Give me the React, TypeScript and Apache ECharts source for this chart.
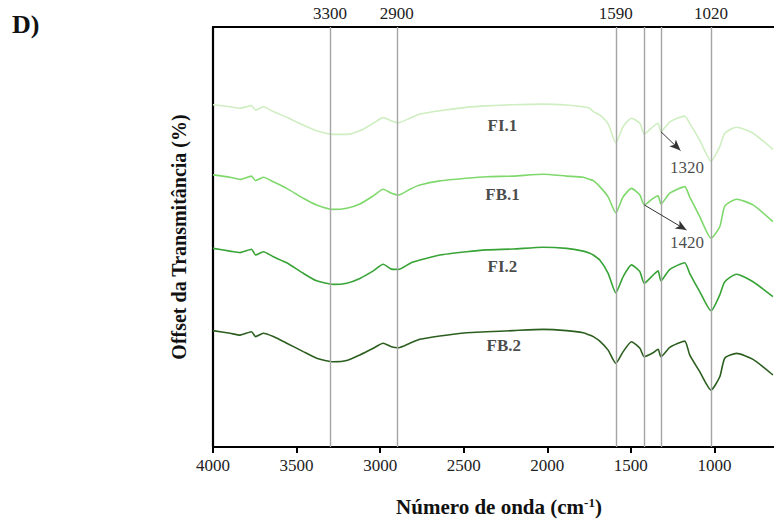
import React, { useEffect, useRef } from "react";
import * as echarts from "echarts";

// Wavenumbers (cm-1) sampled along the spectra
const WAVENUMBERS = [4000, 3898, 3838, 3770, 3745, 3699, 3639, 3559, 3460, 3380, 3280, 3200, 3121, 3041, 2982, 2932, 2890, 2822, 2762, 2643, 2483, 2363, 2204, 2025, 1885, 1785, 1746, 1725, 1686, 1636, 1590, 1546, 1496, 1446, 1420, 1367, 1337, 1320, 1267, 1178, 1148, 1088, 1020, 968, 938, 868, 769, 650];

// Offset transmittance (arbitrary offset units)
const FI1 = [114.1, 113.4, 112.9, 113.8, 112.3, 113.4, 111.8, 109.9, 107.3, 105.4, 104.2, 104.2, 105.4, 107.9, 109.8, 108.7, 108.1, 109.6, 111.0, 112.1, 113.2, 113.7, 114.1, 114.3, 114.0, 113.4, 112.9, 111.8, 110.7, 107.7, 101.4, 106.8, 109.6, 107.9, 104.3, 106.8, 107.9, 105.1, 108.4, 110.3, 107.9, 102.3, 95.3, 100.1, 104.6, 106.6, 104.6, 99.2];
const FB1 = [90.7, 89.9, 89.2, 90.3, 88.8, 89.9, 88.4, 86.2, 82.9, 80.7, 79.2, 79.6, 81.0, 83.7, 85.9, 84.6, 84.0, 85.9, 87.3, 88.7, 89.6, 90.1, 90.3, 90.9, 90.3, 89.9, 89.2, 88.8, 86.8, 83.4, 78.1, 83.4, 86.2, 84.0, 80.7, 82.9, 83.7, 81.0, 84.6, 86.8, 83.4, 76.8, 69.6, 73.4, 80.3, 82.6, 80.7, 75.1];
const FI2 = [66.2, 65.3, 64.8, 65.9, 64.0, 65.1, 63.4, 61.4, 57.9, 55.4, 54.2, 54.6, 56.2, 58.7, 60.9, 59.3, 59.2, 61.2, 62.3, 64.0, 65.1, 65.7, 66.0, 66.6, 66.2, 65.3, 64.6, 64.0, 62.3, 57.9, 51.4, 56.8, 60.7, 58.4, 54.6, 57.3, 58.7, 55.4, 59.2, 61.4, 57.9, 51.8, 45.4, 50.7, 55.1, 57.6, 55.1, 50.1];
const FB2 = [38.8, 37.9, 37.3, 38.4, 36.8, 37.9, 36.8, 34.6, 31.8, 29.6, 28.4, 28.8, 30.7, 32.9, 34.6, 33.4, 33.1, 34.6, 35.9, 37.0, 38.1, 38.4, 38.8, 39.2, 38.8, 38.1, 37.3, 36.8, 35.3, 32.3, 27.9, 31.8, 35.1, 32.9, 30.1, 31.4, 32.6, 30.1, 33.2, 35.3, 30.7, 25.1, 19.0, 23.4, 29.6, 31.2, 29.2, 24.0];

const SERIES_NAMES = ["FI.1", "FB.1", "FI.2", "FB.2"];
const SERIES_VALUES = [FI1, FB1, FI2, FB2];

// Vertical reference bands (cm-1) and which are labelled at the top
const BANDS = [3300, 2900, 1590, 1420, 1320, 1020];
const TOP_LABELED_BANDS = [3300, 2900, 1590, 1020];

// X tick range
const X_MIN = 500;
const X_MAX = 4000;
const X_STEP = 500;

// Annotation texts
const CURVE_LABEL_POINTS: [number, number, string][] = [
  [2268, 107.3, "FI.1"],
  [2268, 84.3, "FB.1"],
  [2268, 60.3, "FI.2"],
  [2260, 33.7, "FB.2"],
];
const ARROWS: [[number, number], [number, number]][] = [
  [[1320, 105.1], [1203, 98.8]],
  [[1420, 80.7], [1167, 72.3]],
];
const ARROW_LABELS: [number, number, string][] = [
  [1164, 93.2, "1320"],
  [1164, 68.1, "1420"],
];

const COLORS = ["#cfeec2", "#7fd86c", "#38a336", "#2c5f1f"];
const SERIF = "Liberation Serif";

export default function App() {
  const ref = useRef<HTMLDivElement>(null);
  useEffect(() => {
    if (!ref.current) return;
    const chart = echarts.init(ref.current, undefined, { renderer: "svg" });
    const lineSeries: any[] = SERIES_VALUES.map((vals, i) => ({
      name: SERIES_NAMES[i],
      type: "line",
      data: WAVENUMBERS.map((w, j) => [w, vals[j]]),
      showSymbol: false,
      smooth: 0.2,
      lineStyle: { color: COLORS[i], width: 1.6 },
      itemStyle: { color: COLORS[i] },
      z: 3,
    }));
    lineSeries[0].markLine = {
      silent: true,
      symbol: "none",
      animation: false,
      lineStyle: { color: "#a5a5a5", width: 1.4, type: "solid" },
      data: BANDS.map((b) => ({
        xAxis: b,
        label: {
          show: TOP_LABELED_BANDS.includes(b),
          position: "end",
          distance: 5,
          formatter: String(b),
          color: "#222",
          fontFamily: SERIF,
          fontSize: 17,
        },
      })),
    };
    const arrowSeries = {
      type: "line",
      data: [],
      markLine: {
        silent: true,
        symbol: ["none", "arrow"],
        symbolSize: [7, 11],
        animation: false,
        lineStyle: { color: "#333", width: 1, type: "solid" },
        label: { show: false },
        data: ARROWS.map(([a, b]) => [{ coord: a }, { coord: b }]),
      },
      z: 4,
    };
    const textLabel = (bold: boolean) => ({
      show: true,
      position: "inside",
      formatter: (p: any) => p.name,
      color: "#1a1a1a",
      textBorderWidth: 0,
      textBorderColor: "transparent",
      fontFamily: SERIF,
      fontWeight: bold ? "bold" : "normal",
      fontSize: 17,
    });
    const labelSeries = {
      type: "scatter",
      symbolSize: 1,
      silent: true,
      itemStyle: { color: "rgba(0,0,0,0)" },
      data: CURVE_LABEL_POINTS.map(([x, y, t]) => ({ value: [x, y], name: t })),
      label: textLabel(true),
      z: 5,
    };
    const arrowLabelSeries = {
      type: "scatter",
      symbolSize: 1,
      silent: true,
      itemStyle: { color: "rgba(0,0,0,0)" },
      data: ARROW_LABELS.map(([x, y, t]) => ({ value: [x, y], name: t })),
      label: textLabel(false),
      z: 5,
    };
    chart.setOption({
      animation: false,
      backgroundColor: "#ffffff",
      grid: { left: 213, top: 27, width: 585, height: 420, containLabel: false, outerBoundsMode: "none" },
      xAxis: [
        {
          type: "value",
          inverse: true,
          min: X_MIN,
          max: X_MAX,
          interval: X_STEP,
          position: "bottom",
          axisLine: { show: true, lineStyle: { color: "#000", width: 2 } },
          axisTick: { show: true, inside: false, length: 6, lineStyle: { color: "#000", width: 2 } },
          axisLabel: {
            color: "#222",
            fontFamily: SERIF,
            fontSize: 17,
            margin: 10,
            showMinLabel: false,
            showMaxLabel: true,
            formatter: (v: number) => (v === X_MIN ? "" : String(v)),
          },
          splitLine: { show: false },
        },
        {
          type: "value",
          inverse: true,
          min: X_MIN,
          max: X_MAX,
          position: "top",
          axisLine: { show: true, lineStyle: { color: "#000", width: 2 } },
          axisTick: { show: false },
          axisLabel: { show: false },
          splitLine: { show: false },
        },
      ],
      yAxis: {
        type: "value",
        min: 0,
        max: 140,
        axisLine: { show: true, lineStyle: { color: "#000", width: 2.2 } },
        axisTick: { show: false },
        axisLabel: { show: false },
        splitLine: { show: false },
        name: "Offset da Transmitância (%)",
        nameLocation: "middle",
        nameGap: 24,
        nameRotate: 90,
        nameTextStyle: { color: "#111", fontFamily: SERIF, fontWeight: "bold", fontSize: 20 },
      },
      graphic: [
        {
          type: "text",
          left: 12,
          top: 11,
          style: { text: "D)", fill: "#111", font: `bold 26px "${SERIF}"` },
        },
        {
          type: "text",
          x: 499,
          y: 507,
          style: {
            text: "{a|Número de onda (cm}{b|-1}{a|)}",
            align: "center",
            verticalAlign: "middle",
            rich: {
              a: { fontFamily: SERIF, fontWeight: "bold", fontSize: 21, fill: "#111", color: "#111" },
              b: { fontFamily: SERIF, fontWeight: "bold", fontSize: 13, fill: "#111", color: "#111", padding: [0, 0, 10, 0] },
            },
          },
        },
      ],
      series: [...lineSeries, arrowSeries, labelSeries, arrowLabelSeries],
    });
    return () => chart.dispose();
  }, []);
  return (
    <div style={{ position: "fixed", left: 0, top: 0, width: 774, height: 521, overflow: "hidden", background: "#fff" }}>
      <div ref={ref} style={{ width: 774, height: 521 }} />
    </div>
  );
}
